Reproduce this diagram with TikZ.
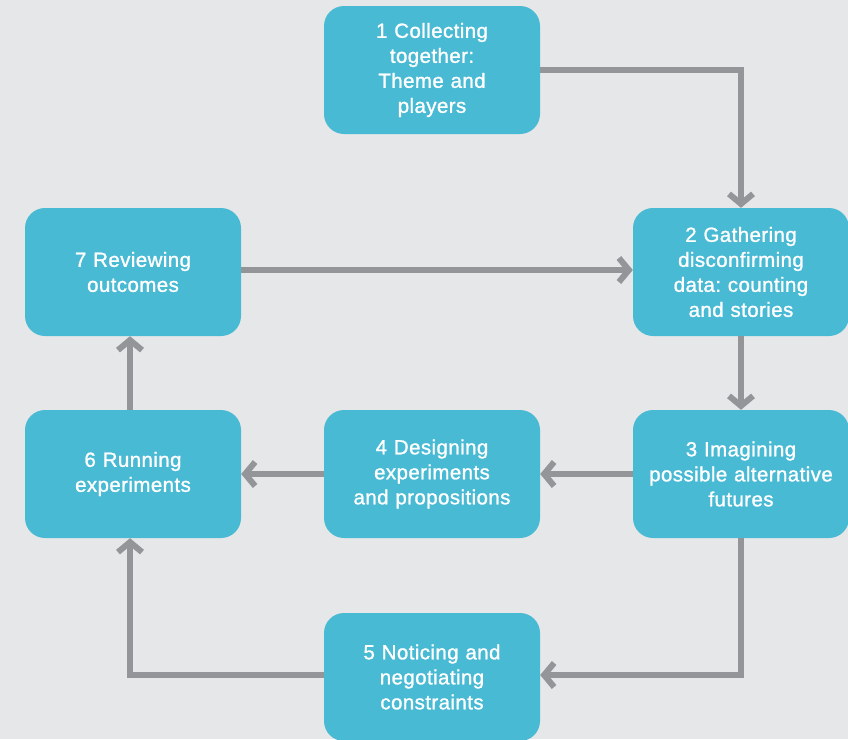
\documentclass[tikz,border=0pt]{standalone}
\usepackage{fontspec}
\newfontfamily\boxfont[FakeBold=1.2,LetterSpace=2]{Liberation Sans}
\usetikzlibrary{arrows.meta}
\definecolor{bg}{HTML}{E6E7E8}
\definecolor{boxblue}{HTML}{49BAD4}
\definecolor{arrowgray}{HTML}{939598}
\begin{document}
\begin{tikzpicture}[x=1pt,y=-1pt,
  stagebox/.style={fill=boxblue, draw=none, rounded corners=20pt,
    minimum width=216pt, minimum height=128pt, text width=210pt,
    align=center, inner sep=0pt, text=white,
    font=\boxfont\fontsize{20.5pt}{25pt}\selectfont\frenchspacing},
  flow/.style={draw=arrowgray, line width=6pt, line join=miter,
    -{Straight Barb[length=10pt,width=24pt]}}]
\fill[bg] (0,0) rectangle (848,739);
\useasboundingbox (0,0) rectangle (848,739);
\node[stagebox] (b1) at (432,70) {1 Collecting\\together:\\Theme and\\players};
\node[stagebox] (b2) at (741,272) {2 Gathering\\disconfirming\\data: counting\\and stories};
\node[stagebox] (b3) at (741,474) {3 Imagining\\possible alternative\\futures};
\node[stagebox] (b4) at (432,474) {4 Designing\\experiments\\and propositions};
\node[stagebox] (b5) at (432,677) {5 Noticing and\\negotiating\\constraints};
\node[stagebox] (b6) at (133,474) {6 Running\\experiments};
\node[stagebox] (b7) at (133,272) {7 Reviewing\\outcomes};
\draw[flow] (b1.east) -| (b2.north);
\draw[flow] ([yshift=2pt]b7.east) -- ([yshift=2pt]b2.west);
\draw[flow] (b2.south) -- (b3.north);
\draw[flow] (b3.west) -- (b4.east);
\draw[flow] (b4.west) -- (b6.east);
\draw[flow] ([xshift=-3pt]b6.north) -- ([xshift=-3pt]b7.south);
\draw[flow] (b3.south) |- ([yshift=2pt]b5.east);
\draw[flow] ([yshift=2pt]b5.west) -| ([xshift=-3pt]b6.south);
\end{tikzpicture}
\end{document}
